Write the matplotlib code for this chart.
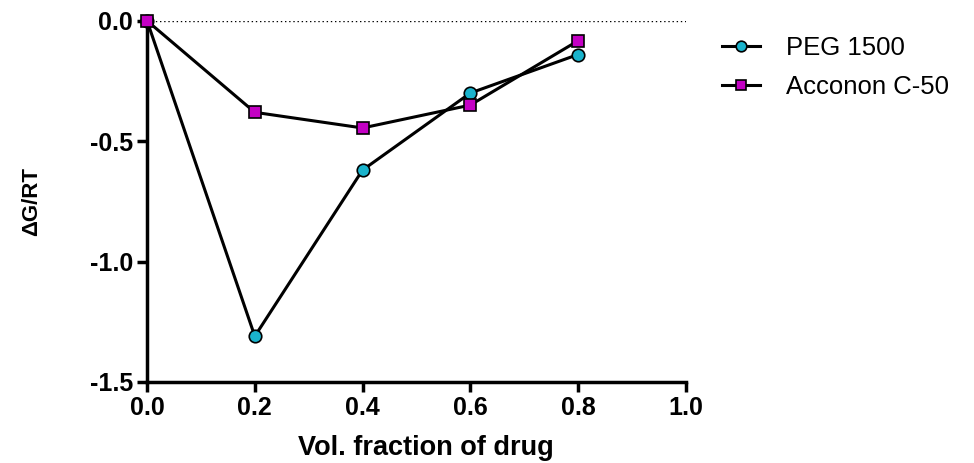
import numpy as np
import matplotlib.pyplot as plt

plt.rcParams['font.family'] = ['Liberation Sans', 'DejaVu Sans']

frac = [0.0, 0.2, 0.4, 0.6, 0.8]
peg_1500 = [0.0, -1.31, -0.62, -0.30, -0.14]
acconon_c50 = [0.0, -0.38, -0.445, -0.35, -0.083]

fig = plt.figure(figsize=(9.74, 4.63), dpi=100)
ax = fig.add_axes([0.151, 0.175, 0.553, 0.78])

ax.axhline(0, color='black', lw=1, ls=(0, (1, 2)), zorder=1)
ax.plot(frac, peg_1500, color='black', lw=2.2, marker='o', ms=9,
        mfc='#1ab3cc', mec='black', mew=1.2, label='PEG 1500', clip_on=False, zorder=3)
ax.plot(frac, acconon_c50, color='black', lw=2.2, marker='s', ms=9,
        mfc='#c400c4', mec='black', mew=1.2, label='Acconon C-50', clip_on=False, zorder=4)

ax.set_xlim(0, 1.0)
ax.set_ylim(-1.5, 0)
ax.set_xticks([0.0, 0.2, 0.4, 0.6, 0.8, 1.0])
ax.set_yticks([-1.5, -1.0, -0.5, 0.0])
ax.xaxis.set_major_formatter(plt.FormatStrFormatter('%.1f'))
ax.yaxis.set_major_formatter(plt.FormatStrFormatter('%.1f'))

for s in ['top', 'right']:
    ax.spines[s].set_visible(False)
for s in ['left', 'bottom']:
    ax.spines[s].set_linewidth(2.5)
ax.tick_params(direction='out', length=7, width=2.5, labelsize=18, pad=3)
for lbl in ax.get_xticklabels() + ax.get_yticklabels():
    lbl.set_fontweight('bold')

ax.set_xlabel('Vol. fraction of drug', fontsize=19.5, fontweight='bold')
ax.xaxis.set_label_coords(0.518, -0.148)
ax.xaxis.label.set_va('top')
ax.set_ylabel('ΔG/RT', fontsize=16, fontweight='bold')
ax.yaxis.set_label_coords(-0.195, 0.5)

fig.legend(loc='upper left', bbox_to_anchor=(0.741, 0.922), frameon=False,
           fontsize=18.5, handlelength=1.5, handletextpad=1.0, labelspacing=0.58,
           borderpad=0, borderaxespad=0, markerscale=0.85)

fig.savefig('out.png', dpi=100)
